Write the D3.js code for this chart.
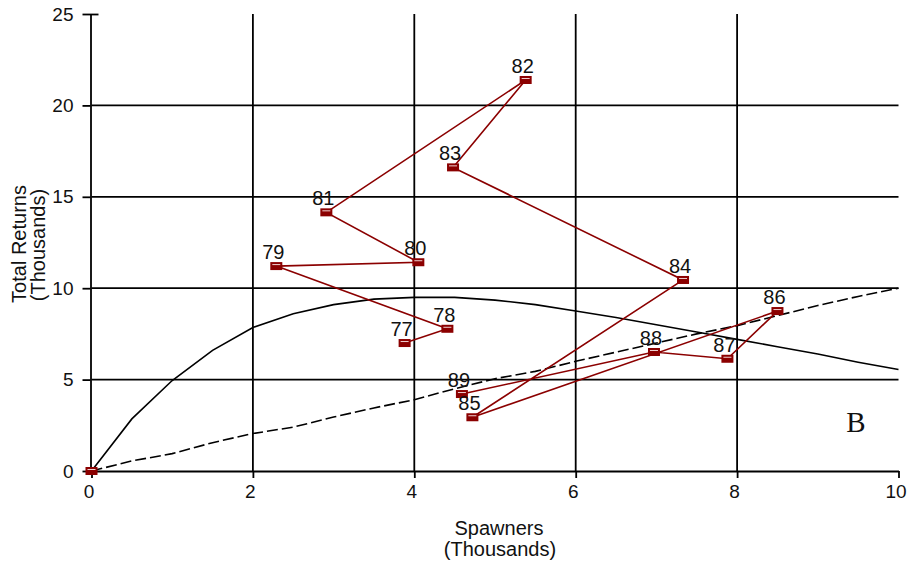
<!DOCTYPE html>
<html>
<head>
<meta charset="utf-8">
<script src="https://cdn.jsdelivr.net/npm/d3@7"></script>
<style>
  html, body { margin: 0; padding: 0; background: #fff; }
  svg { display: block; }
  text { font-family: "Liberation Sans", Arial, sans-serif; fill: #111; }
</style>
</head>
<body>
<svg id="chart" width="907" height="564"></svg>
<script>
// Spawner–recruit observations by brood year (thousands of fish)
const years    = ["77", "78", "79", "80", "81", "82", "83", "84", "85", "86", "87", "88", "89"];
const spawners = [3.88, 4.41, 2.29, 4.05, 2.91, 5.38, 4.48, 7.33, 4.72, 8.50, 7.88, 6.97, 4.59];
const returns  = [7.00, 7.78, 11.21, 11.42, 14.15, 21.39, 16.61, 10.45, 2.94, 8.75, 6.14, 6.51, 4.21];

// Unlabelled anchor point at the origin
const originPoint = [0, 0];

// Fitted recruitment curve (solid) and replacement curve (dashed), sampled every 0.5
const curveS     = [0, 0.5, 1, 1.5, 2, 2.5, 3, 3.5, 4, 4.5, 5, 5.5, 6, 6.5, 7, 7.5, 8, 8.5, 9, 9.5, 10];
const fittedR    = [0, 2.85, 4.95, 6.6, 7.85, 8.6, 9.1, 9.4, 9.5, 9.5, 9.35, 9.1, 8.75, 8.4, 8.0, 7.6, 7.2, 6.8, 6.4, 5.95, 5.55];
const replaceR   = [0, 0.55, 0.95, 1.55, 2.05, 2.4, 2.95, 3.45, 3.9, 4.5, 5.05, 5.45, 6.0, 6.5, 7.0, 7.5, 7.95, 8.5, 9.05, 9.55, 10.0];

// Axis ticks
const xTicks = [0, 2, 4, 6, 8, 10];
const yTicks = [0, 5, 10, 15, 20, 25];
const xGrid  = [2, 4, 6, 8];
const yGrid  = [5, 10, 15, 20];

const svg = d3.select("#chart");
const x = d3.scaleLinear().domain([0, 10]).range([91.5, 898.5]);
const y = d3.scaleLinear().domain([0, 25]).range([471, 14]);

const red = "#8b0000";

// Grid lines
svg.append("g").selectAll("line").data(yGrid).join("line")
  .attr("x1", x(0)).attr("x2", x(10))
  .attr("y1", d => y(d)).attr("y2", d => y(d))
  .attr("stroke", "#000").attr("stroke-width", 1.8);
svg.append("g").selectAll("line").data(xGrid).join("line")
  .attr("x1", d => x(d)).attr("x2", d => x(d))
  .attr("y1", y(25)).attr("y2", y(0))
  .attr("stroke", "#000").attr("stroke-width", 1.8);

// Y axis
const yAxis = svg.append("g")
  .attr("transform", `translate(${x(0) - 1},0)`)
  .call(d3.axisLeft(y).tickValues(yTicks).tickSizeInner(8).tickSizeOuter(0).tickPadding(9));
yAxis.select(".domain").attr("stroke", "#000").attr("stroke-width", 1.8);
yAxis.selectAll(".tick line").attr("x1", d => d === 25 ? 8 : 0).attr("stroke", "#000").attr("stroke-width", 1.8);
yAxis.selectAll(".tick text")
  .style("font-family", "'Liberation Sans', Arial, sans-serif")
  .style("font-size", "19px").attr("fill", "#111");

// X axis
const xAxis = svg.append("g")
  .attr("transform", `translate(0,${y(0)})`)
  .call(d3.axisBottom(x).tickValues(xTicks).tickSizeInner(7).tickSizeOuter(0).tickPadding(20));
xAxis.select(".domain").attr("stroke", "#000").attr("stroke-width", 1.8);
xAxis.selectAll(".tick line").attr("stroke", "#000").attr("stroke-width", 1.8);
xAxis.selectAll(".tick text")
  .attr("dy", 0).attr("dx", -3)
  .style("font-family", "'Liberation Sans', Arial, sans-serif")
  .style("font-size", "19px").attr("fill", "#111");

// Axis titles
svg.append("text").attr("x", 499).attr("y", 535).attr("text-anchor", "middle")
  .style("font-size", "20px").text("Spawners");
svg.append("text").attr("x", 500).attr("y", 556).attr("text-anchor", "middle")
  .style("font-size", "20px").text("(Thousands)");
svg.append("text").attr("transform", "translate(26,244) rotate(-90)").attr("text-anchor", "middle")
  .style("font-size", "20px").text("Total Returns");
svg.append("text").attr("transform", "translate(45,245) rotate(-90)").attr("text-anchor", "middle")
  .style("font-size", "20px").text("(Thousands)");

// Curves
const line = d3.line().x(d => x(d[0])).y(d => y(d[1]));
svg.append("path").datum(curveS.map((s, i) => [s, fittedR[i]]))
  .attr("d", line).attr("fill", "none").attr("stroke", "#000").attr("stroke-width", 1.6);
svg.append("path").datum(curveS.map((s, i) => [s, replaceR[i]]))
  .attr("d", line).attr("fill", "none").attr("stroke", "#000").attr("stroke-width", 1.6)
  .attr("stroke-dasharray", "11,4");

// Year-to-year trajectory
const pts = years.map((yr, i) => ({ yr, s: spawners[i], r: returns[i] }));
svg.append("path").datum(pts.map(p => [p.s, p.r]))
  .attr("d", line).attr("fill", "none").attr("stroke", red).attr("stroke-width", 1.6);

// Markers
const markerData = [{ yr: "", s: originPoint[0], r: originPoint[1] }].concat(pts);
const mk = svg.append("g").selectAll("g").data(markerData).join("g")
  .attr("transform", d => `translate(${x(d.s)},${y(d.r)})`);
mk.append("rect").attr("x", -6).attr("y", -4).attr("width", 12).attr("height", 8)
  .attr("fill", red);
mk.append("line").attr("x1", -4).attr("x2", 4).attr("y1", -1.5).attr("y2", -1.5)
  .attr("stroke", "#f0d0d0").attr("stroke-width", 1);

// Year labels
svg.append("g").selectAll("text").data(pts).join("text")
  .attr("x", d => x(d.s) - 3).attr("y", d => y(d.r) - 7)
  .attr("text-anchor", "middle").style("font-size", "20px")
  .text(d => d.yr);

// Panel letter
svg.append("text").attr("x", 856).attr("y", 432).attr("text-anchor", "middle")
  .style("font-family", "'Liberation Serif', 'Times New Roman', serif")
  .style("font-size", "29px").text("B");
</script>
</body>
</html>
